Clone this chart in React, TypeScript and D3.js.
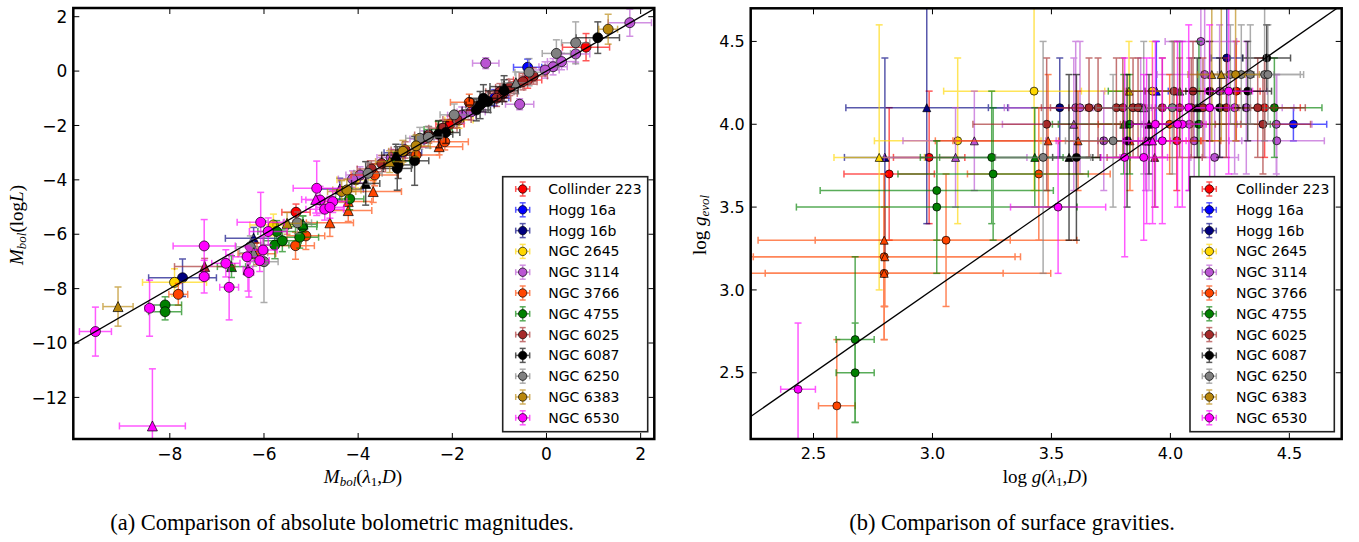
import React, { useEffect, useRef } from 'react';
import * as d3 from 'd3';

type Row = [string, number, number, number, number, string];

const clusters = [
  'Collinder 223', 'Hogg 16a', 'Hogg 16b', 'NGC 2645', 'NGC 3114', 'NGC 3766',
  'NGC 4755', 'NGC 6025', 'NGC 6087', 'NGC 6250', 'NGC 6383', 'NGC 6530'
];
const clusterColors = [
  '#ff0000', '#0000ff', '#000080', '#ffd700', '#ba55d3', '#ff4500',
  '#008000', '#a52a2a', '#000000', '#808080', '#b8860b', '#ff00ff'
];

// left panel: Mbol(lambda1, D) vs Mbol(log L) -> [cluster, x, y, xerr, yerr, marker]
const magnitudeRows: Row[] = [
  ['Collinder 223', 0.84, 0.88, 0.5, 0.5, 'o'],
  ['Collinder 223', -5.32, -5.19, 0.3, 0.3, 'o'],
  ['Collinder 223', -0.4, -0.33, 0.3, 0.3, 'o'],
  ['Collinder 223', -2.05, -1.95, 0.3, 0.3, 'o'],
  ['Hogg 16a', -0.4, 0.14, 0.3, 0.3, 'o'],
  ['Hogg 16a', -1.1, -0.98, 0.3, 0.3, 'o'],
  ['Hogg 16b', -7.73, -7.6, 0.72, 0.69, 'o'],
  ['Hogg 16b', -6.22, -6.15, 0.6, 0.4, '^'],
  ['Hogg 16b', -4.39, -4.34, 0.5, 0.4, '^'],
  ['Hogg 16b', -3.05, -3.0, 0.4, 0.3, 'o'],
  ['NGC 2645', -7.9, -7.77, 0.68, 0.5, 'o'],
  ['NGC 2645', -5.8, -5.66, 0.5, 0.4, 'o'],
  ['NGC 2645', -1.86, -1.8, 0.3, 0.3, 'o'],
  ['NGC 2645', -4.05, -4.0, 0.4, 0.3, 'o'],
  ['NGC 3114', -1.29, 0.29, 0.28, 0.2, 'o'],
  ['NGC 3114', -0.57, -1.22, 0.3, 0.2, 'o'],
  ['NGC 3114', 1.77, 1.78, 0.46, 0.5, 'o'],
  ['NGC 3114', 0.62, 0.63, 0.3, 0.3, 'o'],
  ['NGC 3114', 0.32, 0.35, 0.3, 0.3, 'o'],
  ['NGC 3114', 0.14, 0.16, 0.3, 0.3, 'o'],
  ['NGC 3114', -0.03, 0.04, 0.3, 0.3, 'o'],
  ['NGC 3114', -3.96, -3.82, 0.3, 0.3, 'o'],
  ['NGC 3114', -4.12, -3.97, 0.3, 0.3, 'o'],
  ['NGC 3114', -1.8, -1.62, 0.3, 0.3, 'o'],
  ['NGC 3114', -1.6, -1.5, 0.3, 0.3, 'o'],
  ['NGC 3114', -3.3, -3.18, 0.3, 0.3, 'o'],
  ['NGC 3114', -2.6, -2.5, 0.3, 0.3, 'o'],
  ['NGC 3766', -7.82, -8.21, 0.2, 0.4, 'o'],
  ['NGC 3766', -5.33, -6.42, 0.4, 0.5, 'o'],
  ['NGC 3766', -5.11, -6.06, 0.4, 0.5, 'o'],
  ['NGC 3766', -6.15, -6.72, 0.4, 0.4, '^'],
  ['NGC 3766', -4.6, -5.58, 0.5, 0.5, '^'],
  ['NGC 3766', -4.21, -4.8, 0.5, 0.4, '^'],
  ['NGC 3766', -4.21, -5.13, 0.5, 0.4, '^'],
  ['NGC 3766', -3.68, -4.43, 0.6, 0.4, '^'],
  ['NGC 3766', -3.65, -3.82, 0.5, 0.4, 'o'],
  ['NGC 3766', -2.77, -3.09, 0.5, 0.3, 'o'],
  ['NGC 3766', -2.16, -2.6, 0.5, 0.3, 'o'],
  ['NGC 3766', -2.28, -2.78, 0.5, 0.3, '^'],
  ['NGC 3766', -1.64, -1.15, 0.4, 0.3, 'o'],
  ['NGC 4755', -8.1, -8.6, 0.35, 0.3, 'o'],
  ['NGC 4755', -8.1, -8.85, 0.35, 0.3, 'o'],
  ['NGC 4755', -6.69, -7.19, 0.3, 0.4, '^'],
  ['NGC 4755', -5.77, -6.4, 0.3, 0.5, 'o'],
  ['NGC 4755', -5.61, -6.24, 0.4, 0.4, 'o'],
  ['NGC 4755', -5.73, -5.9, 0.4, 0.4, 'o'],
  ['NGC 4755', -5.24, -6.11, 0.4, 0.4, 'o'],
  ['NGC 4755', -5.18, -5.72, 0.3, 0.4, 'o'],
  ['NGC 4755', -5.17, -5.63, 0.3, 0.3, '^'],
  ['NGC 4755', -4.18, -4.7, 0.3, 0.4, 'o'],
  ['NGC 4755', -3.2, -3.3, 0.3, 0.3, 'o'],
  ['NGC 4755', -2.3, -2.15, 0.3, 0.3, '^'],
  ['NGC 6025', -7.26, -7.19, 0.64, 0.3, '^'],
  ['NGC 6025', -0.28, -0.18, 0.3, 0.3, 'o'],
  ['NGC 6025', -0.5, -0.39, 0.3, 0.3, 'o'],
  ['NGC 6025', -0.78, -0.6, 0.3, 0.3, 'o'],
  ['NGC 6025', -0.99, -0.76, 0.3, 0.3, 'o'],
  ['NGC 6025', -0.92, -0.82, 0.3, 0.3, 'o'],
  ['NGC 6025', -1.06, -1.0, 0.3, 0.3, 'o'],
  ['NGC 6025', -2.2, -2.1, 0.3, 0.3, 'o'],
  ['NGC 6025', -2.5, -2.35, 0.3, 0.3, 'o'],
  ['NGC 6025', -3.0, -2.9, 0.3, 0.3, 'o'],
  ['NGC 6025', -3.5, -3.4, 0.3, 0.3, 'o'],
  ['NGC 6025', -3.72, -3.6, 0.3, 0.3, 'o'],
  ['NGC 6025', -1.9, -1.78, 0.3, 0.3, 'o'],
  ['NGC 6087', -3.84, -4.13, 0.3, 0.8, '^'],
  ['NGC 6087', -3.2, -3.09, 0.3, 0.4, '^'],
  ['NGC 6087', -3.15, -3.45, 0.3, 0.5, 'o'],
  ['NGC 6087', -3.17, -3.58, 0.3, 0.8, 'o'],
  ['NGC 6087', -2.8, -3.3, 0.3, 0.9, 'o'],
  ['NGC 6087', -2.29, -2.32, 0.3, 0.5, 'o'],
  ['NGC 6087', -2.14, -2.26, 0.3, 0.4, 'o'],
  ['NGC 6087', -1.34, -1.0, 0.3, 0.5, 'o'],
  ['NGC 6087', -1.24, -1.12, 0.3, 0.4, 'o'],
  ['NGC 6087', -1.41, -1.25, 0.3, 0.5, 'o'],
  ['NGC 6087', -1.49, -1.43, 0.3, 0.4, 'o'],
  ['NGC 6087', -0.9, -0.57, 0.3, 0.4, '^'],
  ['NGC 6087', -0.9, -0.72, 0.3, 0.4, 'o'],
  ['NGC 6087', 1.09, 1.23, 0.46, 0.58, 'o'],
  ['NGC 6250', -6.29, -6.46, 0.3, 0.4, 'o'],
  ['NGC 6250', -6.22, -6.68, 0.3, 0.5, '^'],
  ['NGC 6250', -6.0, -7.01, 0.3, 1.5, 'o'],
  ['NGC 6250', -5.29, -5.58, 0.3, 0.4, 'o'],
  ['NGC 6250', -3.79, -3.76, 0.3, 0.4, 'o'],
  ['NGC 6250', -2.69, -2.47, 0.3, 0.4, 'o'],
  ['NGC 6250', -2.51, -2.43, 0.3, 0.4, 'o'],
  ['NGC 6250', -1.96, -1.61, 0.3, 0.4, 'o'],
  ['NGC 6250', -0.65, -0.43, 0.3, 0.4, '^'],
  ['NGC 6250', -0.37, -0.04, 0.3, 0.5, 'o'],
  ['NGC 6250', 0.62, 1.04, 0.3, 0.77, 'o'],
  ['NGC 6250', 0.21, 0.65, 0.3, 0.5, 'o'],
  ['NGC 6383', -9.1, -8.66, 0.32, 0.72, '^'],
  ['NGC 6383', -5.51, -5.6, 0.3, 0.4, '^'],
  ['NGC 6383', -4.35, -4.43, 0.3, 0.4, 'o'],
  ['NGC 6383', -4.24, -4.37, 0.3, 0.4, 'o'],
  ['NGC 6383', -2.77, -2.75, 0.3, 0.4, 'o'],
  ['NGC 6383', -3.33, -3.33, 0.3, 0.4, '^'],
  ['NGC 6383', -3.05, -2.95, 0.3, 0.4, 'o'],
  ['NGC 6383', 1.31, 1.54, 0.2, 0.55, 'o'],
  ['NGC 6530', -9.58, -9.58, 0.34, 0.9, 'o'],
  ['NGC 6530', -8.43, -8.72, 0.1, 1.03, 'o'],
  ['NGC 6530', -8.37, -13.05, 0.7, 2.1, '^'],
  ['NGC 6530', -7.27, -7.56, 0.1, 0.6, 'o'],
  ['NGC 6530', -7.27, -6.43, 0.66, 0.97, 'o'],
  ['NGC 6530', -6.81, -7.07, 0.3, 0.5, 'o'],
  ['NGC 6530', -6.74, -7.95, 0.2, 1.2, 'o'],
  ['NGC 6530', -6.34, -7.29, 0.1, 0.8, '^'],
  ['NGC 6530', -6.32, -7.41, 0.1, 0.9, 'o'],
  ['NGC 6530', -6.36, -6.83, 0.3, 0.4, 'o'],
  ['NGC 6530', -6.02, -6.58, 0.3, 0.5, 'o'],
  ['NGC 6530', -6.09, -6.97, 0.2, 0.4, 'o'],
  ['NGC 6530', -5.91, -5.9, 0.4, 0.5, 'o'],
  ['NGC 6530', -6.07, -5.56, 0.5, 1.1, 'o'],
  ['NGC 6530', -4.88, -4.31, 0.5, 1.0, 'o'],
  ['NGC 6530', -4.81, -4.74, 0.3, 0.5, 'o'],
  ['NGC 6530', -4.71, -5.08, 0.4, 0.4, 'o'],
  ['NGC 6530', -4.54, -4.8, 0.3, 0.4, 'o'],
  ['NGC 6530', -4.6, -5.01, 0.3, 0.4, 'o'],
  ['NGC 6530', -4.9, -4.72, 0.3, 0.5, '^']
];

// right panel: log g(lambda1, D) vs log g_evol
const gravityRows: Row[] = [
  ['Collinder 223', 2.986, 3.8, 0.15, 0.4, 'o'],
  ['Collinder 223', 2.818, 3.7, 0.19, 0.4, 'o'],
  ['Collinder 223', 4.277, 4.2, 0.1, 0.3, 'o'],
  ['Collinder 223', 4.396, 4.1, 0.15, 0.3, 'o'],
  ['Collinder 223', 4.027, 3.9, 0.1, 0.3, 'o'],
  ['Hogg 16a', 4.517, 4.0, 0.14, 0.1, 'o'],
  ['Hogg 16a', 3.941, 4.2, 0.05, 0.3, '^'],
  ['Hogg 16b', 2.976, 4.1, 0.34, 0.7, '^'],
  ['Hogg 16b', 2.8, 3.8, 0.17, 0.6, '^'],
  ['Hogg 16b', 3.535, 4.1, 0.3, 0.3, 'o'],
  ['Hogg 16b', 4.237, 4.4, 0.065, 0.3, 'o'],
  ['NGC 2645', 2.776, 3.8, 0.19, 0.8, '^'],
  ['NGC 2645', 3.106, 3.9, 0.35, 0.5, 'o'],
  ['NGC 2645', 3.427, 4.2, 0.38, 0.6, 'o'],
  ['NGC 2645', 3.826, 4.2, 0.2, 0.3, '^'],
  ['NGC 2645', 3.924, 4.2, 0.2, 0.3, 'o'],
  ['NGC 3114', 3.097, 3.8, 0.3, 0.3, '^'],
  ['NGC 3114', 3.176, 3.9, 0.3, 0.3, '^'],
  ['NGC 3114', 4.128, 4.5, 0.15, 0.4, 'o'],
  ['NGC 3114', 3.594, 4.0, 0.3, 0.4, '^'],
  ['NGC 3114', 3.602, 4.1, 0.3, 0.4, 'o'],
  ['NGC 3114', 3.62, 4.1, 0.3, 0.4, 'o'],
  ['NGC 3114', 4.144, 4.3, 0.2, 0.5, 'o'],
  ['NGC 3114', 4.207, 4.2, 0.2, 0.4, 'o'],
  ['NGC 3114', 4.27, 4.1, 0.2, 0.4, 'o'],
  ['NGC 3114', 4.319, 4.1, 0.2, 0.4, 'o'],
  ['NGC 3114', 4.445, 4.0, 0.15, 0.3, 'o'],
  ['NGC 3114', 4.447, 3.9, 0.2, 0.4, 'o'],
  ['NGC 3114', 4.186, 3.8, 0.1, 0.3, 'o'],
  ['NGC 3114', 3.895, 3.9, 0.2, 0.3, '^'],
  ['NGC 3114', 3.91, 3.9, 0.2, 0.3, '^'],
  ['NGC 3114', 3.875, 4.1, 0.2, 0.3, 'o'],
  ['NGC 3114', 3.72, 3.9, 0.2, 0.3, 'o'],
  ['NGC 3114', 4.08, 4.0, 0.2, 0.4, 'o'],
  ['NGC 3114', 4.1, 3.9, 0.2, 0.3, 'o'],
  ['NGC 3766', 3.057, 3.3, 0.55, 0.4, 'o'],
  ['NGC 3766', 2.797, 3.3, 0.53, 0.4, '^'],
  ['NGC 3766', 2.797, 3.2, 0.55, 0.5, 'o'],
  ['NGC 3766', 2.8, 3.2, 0.57, 0.3, '^'],
  ['NGC 3766', 2.797, 3.1, 0.5, 0.2, 'o'],
  ['NGC 3766', 2.797, 3.1, 0.7, 0.4, '^'],
  ['NGC 3766', 2.598, 2.3, 0.077, 0.4, 'o'],
  ['NGC 3766', 3.447, 3.7, 0.3, 0.4, 'o'],
  ['NGC 3766', 3.486, 3.9, 0.4, 0.4, '^'],
  ['NGC 3766', 3.612, 3.9, 0.6, 0.3, '^'],
  ['NGC 3766', 3.83, 3.9, 0.3, 0.3, '^'],
  ['NGC 3766', 3.997, 4.0, 0.3, 0.3, 'o'],
  ['NGC 4755', 3.018, 3.6, 0.49, 0.3, 'o'],
  ['NGC 4755', 3.018, 3.5, 0.59, 0.4, 'o'],
  ['NGC 4755', 3.249, 3.8, 0.3, 0.4, 'o'],
  ['NGC 4755', 3.255, 3.7, 0.4, 0.4, 'o'],
  ['NGC 4755', 2.675, 2.7, 0.08, 0.5, 'o'],
  ['NGC 4755', 2.675, 2.5, 0.08, 0.3, 'o'],
  ['NGC 4755', 3.43, 3.8, 0.4, 0.3, '^'],
  ['NGC 4755', 3.804, 4.0, 0.3, 0.3, '^'],
  ['NGC 4755', 3.829, 4.0, 0.3, 0.3, 'o'],
  ['NGC 4755', 4.039, 4.2, 0.3, 0.3, '^'],
  ['NGC 4755', 4.12, 4.0, 0.3, 0.5, 'o'],
  ['NGC 4755', 4.437, 4.1, 0.2, 0.3, 'o'],
  ['NGC 6025', 3.48, 4.0, 0.31, 0.4, 'o'],
  ['NGC 6025', 3.658, 4.1, 0.2, 0.3, 'o'],
  ['NGC 6025', 3.696, 4.1, 0.2, 0.3, 'o'],
  ['NGC 6025', 3.773, 4.1, 0.2, 0.3, 'o'],
  ['NGC 6025', 3.8, 4.1, 0.2, 0.3, 'o'],
  ['NGC 6025', 3.843, 4.1, 0.2, 0.3, 'o'],
  ['NGC 6025', 3.864, 4.1, 0.2, 0.3, 'o'],
  ['NGC 6025', 3.966, 4.1, 0.2, 0.3, 'o'],
  ['NGC 6025', 4.039, 4.1, 0.2, 0.3, 'o'],
  ['NGC 6025', 4.088, 4.1, 0.2, 0.3, 'o'],
  ['NGC 6025', 4.137, 4.1, 0.2, 0.3, 'o'],
  ['NGC 6025', 4.235, 4.1, 0.2, 0.3, 'o'],
  ['NGC 6025', 4.367, 4.1, 0.2, 0.3, 'o'],
  ['NGC 6025', 4.015, 4.2, 0.2, 0.3, 'o'],
  ['NGC 6025', 4.095, 4.2, 0.2, 0.3, 'o'],
  ['NGC 6025', 4.389, 4.0, 0.2, 0.3, 'o'],
  ['NGC 6025', 3.934, 3.8, 0.2, 0.3, '^'],
  ['NGC 6087', 4.405, 4.4, 0.1, 0.2, 'o'],
  ['NGC 6087', 4.165, 4.2, 0.1, 0.3, 'o'],
  ['NGC 6087', 4.325, 4.2, 0.1, 0.3, 'o'],
  ['NGC 6087', 4.113, 4.1, 0.1, 0.3, '^'],
  ['NGC 6087', 4.207, 4.1, 0.1, 0.3, 'o'],
  ['NGC 6087', 3.91, 4.0, 0.1, 0.3, '^'],
  ['NGC 6087', 3.818, 3.9, 0.1, 0.4, 'o'],
  ['NGC 6087', 3.574, 3.8, 0.1, 0.5, '^'],
  ['NGC 6087', 3.605, 3.8, 0.1, 0.5, 'o'],
  ['NGC 6250', 3.465, 3.8, 0.2, 0.7, 'o'],
  ['NGC 6250', 3.888, 4.1, 0.2, 0.4, '^'],
  ['NGC 6250', 4.008, 4.1, 0.2, 0.4, 'o'],
  ['NGC 6250', 3.759, 3.9, 0.2, 0.4, 'o'],
  ['NGC 6250', 4.252, 4.3, 0.1, 0.3, 'o'],
  ['NGC 6250', 4.298, 4.3, 0.1, 0.3, 'o'],
  ['NGC 6250', 4.336, 4.3, 0.1, 0.3, 'o'],
  ['NGC 6250', 4.396, 4.3, 0.15, 0.4, 'o'],
  ['NGC 6250', 4.41, 4.3, 0.15, 0.3, 'o'],
  ['NGC 6383', 4.174, 4.3, 0.1, 0.4, '^'],
  ['NGC 6383', 4.214, 4.3, 0.1, 0.4, '^'],
  ['NGC 6383', 4.274, 4.3, 0.1, 0.4, 'o'],
  ['NGC 6530', 2.435, 2.4, 0.073, 0.4, 'o'],
  ['NGC 6530', 3.528, 3.5, 0.2, 0.4, 'o'],
  ['NGC 6530', 3.808, 3.8, 0.1, 0.6, 'o'],
  ['NGC 6530', 3.888, 3.8, 0.1, 0.5, 'o'],
  ['NGC 6530', 3.937, 4.0, 0.1, 0.5, 'o'],
  ['NGC 6530', 3.966, 3.9, 0.1, 0.5, 'o'],
  ['NGC 6530', 4.05, 4.0, 0.1, 0.5, 'o'],
  ['NGC 6530', 4.03, 4.0, 0.1, 0.5, 'o'],
  ['NGC 6530', 4.077, 4.1, 0.1, 0.5, 'o'],
  ['NGC 6530', 4.165, 4.1, 0.1, 0.5, 'o'],
  ['NGC 6530', 4.245, 4.2, 0.1, 0.5, 'o'],
  ['NGC 6530', 3.9, 3.9, 0.1, 0.5, '^'],
  ['NGC 6530', 3.925, 3.9, 0.1, 0.5, '^']
];

const magXTicks = [-8, -6, -4, -2, 0, 2];
const magYTicks = [2, 0, -2, -4, -6, -8, -10, -12];
const gravXTicks = [2.5, 3.0, 3.5, 4.0, 4.5];
const gravYTicks = [2.5, 3.0, 3.5, 4.0, 4.5];

const colorOf = (name: string) => clusterColors[clusters.indexOf(name)];

interface PanelSpec {
  id: string;
  box: { left: number; right: number; top: number; bottom: number };
  xDomain: [number, number];
  yDomain: [number, number];
  rows: Row[];
  xTicks: number[];
  yTicks: number[];
  fmt: (v: number) => string;
  tickSize: number;
  markerR: number;
  legend: { left: number; right: number; top: number; bottom: number; mark: number; text: number; first: number; step: number };
}

const drawPanel = (root: d3.Selection<SVGSVGElement, unknown, null, undefined>, p: PanelSpec) => {
  const x = d3.scaleLinear().domain(p.xDomain).range([p.box.left, p.box.right]);
  const y = d3.scaleLinear().domain(p.yDomain).range([p.box.bottom, p.box.top]);
  const g = root.append('g');

  g.append('clipPath').attr('id', `clip-${p.id}`)
    .append('rect')
    .attr('x', p.box.left).attr('y', p.box.top)
    .attr('width', p.box.right - p.box.left).attr('height', p.box.bottom - p.box.top);

  const plot = g.append('g').attr('clip-path', `url(#clip-${p.id})`);

  // 1:1 line
  const lo = Math.min(p.xDomain[0], p.yDomain[0]);
  const hi = Math.max(p.xDomain[1], p.yDomain[1]);
  const cap = 3.5;

  clusters.forEach(name => {
    const color = colorOf(name);
    const rows = p.rows.filter(r => r[0] === name);
    const bars = plot.append('g').attr('stroke', color).attr('stroke-width', 1.5).attr('opacity', 0.65);
    rows.forEach(r => {
      const [, vx, vy, ex, ey] = r;
      const cx = x(vx), cy = y(vy);
      const xa = x(vx - ex), xb = x(vx + ex), ya = y(vy - ey), yb = y(vy + ey);
      bars.append('line').attr('x1', xa).attr('x2', xb).attr('y1', cy).attr('y2', cy);
      bars.append('line').attr('x1', xa).attr('x2', xa).attr('y1', cy - cap).attr('y2', cy + cap);
      bars.append('line').attr('x1', xb).attr('x2', xb).attr('y1', cy - cap).attr('y2', cy + cap);
      bars.append('line').attr('x1', cx).attr('x2', cx).attr('y1', ya).attr('y2', yb);
      bars.append('line').attr('x1', cx - cap).attr('x2', cx + cap).attr('y1', ya).attr('y2', ya);
      bars.append('line').attr('x1', cx - cap).attr('x2', cx + cap).attr('y1', yb).attr('y2', yb);
    });
    const rr = p.markerR;
    rows.forEach(r => {
      const cx = x(r[1]), cy = y(r[2]);
      if (r[5] === '^') {
        plot.append('path')
          .attr('d', `M${cx},${cy - rr}L${cx - rr},${cy + rr}L${cx + rr},${cy + rr}Z`)
          .attr('fill', color).attr('stroke', '#000').attr('stroke-width', 0.7);
      } else {
        plot.append('circle').attr('cx', cx).attr('cy', cy).attr('r', rr)
          .attr('fill', color).attr('stroke', '#000').attr('stroke-width', 0.7);
      }
    });
  });

  plot.append('line')
    .attr('x1', x(lo)).attr('y1', y(lo)).attr('x2', x(hi)).attr('y2', y(hi))
    .attr('stroke', '#000').attr('stroke-width', 1.3);

  // ticks on all sides, pointing in
  const tl = 6;
  const ticks = g.append('g').attr('stroke', '#000').attr('stroke-width', 1);
  p.xTicks.forEach(t => {
    ticks.append('line').attr('x1', x(t)).attr('x2', x(t)).attr('y1', p.box.bottom).attr('y2', p.box.bottom - tl);
    ticks.append('line').attr('x1', x(t)).attr('x2', x(t)).attr('y1', p.box.top).attr('y2', p.box.top + tl);
  });
  p.yTicks.forEach(t => {
    ticks.append('line').attr('y1', y(t)).attr('y2', y(t)).attr('x1', p.box.left).attr('x2', p.box.left + tl);
    ticks.append('line').attr('y1', y(t)).attr('y2', y(t)).attr('x1', p.box.right).attr('x2', p.box.right - tl);
  });

  const labels = g.append('g').attr('font-family', 'DejaVu Sans, sans-serif').attr('font-size', p.tickSize).attr('fill', '#000');
  p.xTicks.forEach(t => {
    labels.append('text').attr('x', x(t)).attr('y', p.box.bottom + 7).attr('dy', '0.8em')
      .attr('text-anchor', 'middle').text(p.fmt(t));
  });
  p.yTicks.forEach(t => {
    labels.append('text').attr('x', p.box.left - 6).attr('y', y(t)).attr('dy', '0.36em')
      .attr('text-anchor', 'end').text(p.fmt(t));
  });

  g.append('rect')
    .attr('x', p.box.left).attr('y', p.box.top)
    .attr('width', p.box.right - p.box.left).attr('height', p.box.bottom - p.box.top)
    .attr('fill', 'none').attr('stroke', '#000').attr('stroke-width', 2.5);

  // legend
  const L = p.legend;
  const leg = g.append('g');
  leg.append('rect').attr('x', L.left).attr('y', L.top)
    .attr('width', L.right - L.left).attr('height', L.bottom - L.top)
    .attr('fill', '#fff').attr('stroke', '#222').attr('stroke-width', 1.6);
  clusters.forEach((name, i) => {
    const cy = L.first + i * L.step;
    const color = clusterColors[i];
    const eb = leg.append('g').attr('stroke', color).attr('stroke-width', 1.5).attr('opacity', 0.65);
    eb.append('line').attr('x1', L.mark - 7).attr('x2', L.mark + 7).attr('y1', cy).attr('y2', cy);
    eb.append('line').attr('x1', L.mark - 7).attr('x2', L.mark - 7).attr('y1', cy - 3).attr('y2', cy + 3);
    eb.append('line').attr('x1', L.mark + 7).attr('x2', L.mark + 7).attr('y1', cy - 3).attr('y2', cy + 3);
    eb.append('line').attr('x1', L.mark).attr('x2', L.mark).attr('y1', cy - 7).attr('y2', cy + 7);
    eb.append('line').attr('x1', L.mark - 3).attr('x2', L.mark + 3).attr('y1', cy - 7).attr('y2', cy - 7);
    eb.append('line').attr('x1', L.mark - 3).attr('x2', L.mark + 3).attr('y1', cy + 7).attr('y2', cy + 7);
    leg.append('circle').attr('cx', L.mark).attr('cy', cy).attr('r', 4.2)
      .attr('fill', color).attr('stroke', '#000').attr('stroke-width', 0.7);
    leg.append('text').attr('x', L.text).attr('y', cy).attr('dy', '0.36em')
      .attr('font-family', 'DejaVu Sans, sans-serif').attr('font-size', 14).text(name);
  });
};

const App: React.FC = () => {
  const chartRef = useRef<SVGSVGElement>(null);

  useEffect(() => {
    if (!chartRef.current) return;
    const svg = d3.select(chartRef.current);
    svg.selectAll('*').remove();

    const minus = (v: number) => (v < 0 ? '\u2212' + Math.abs(v) : String(v));

    drawPanel(svg, {
      id: 'mag',
      box: { left: 73.3, right: 654.3, top: 8, bottom: 439 },
      xDomain: [-10.05, 2.29],
      yDomain: [-13.53, 2.32],
      rows: magnitudeRows,
      xTicks: magXTicks,
      yTicks: magYTicks,
      fmt: minus,
      tickSize: 17,
      markerR: 5,
      legend: { left: 502.7, right: 647.7, top: 176.7, bottom: 431.7, mark: 522.7, text: 548.3, first: 189, step: 20.8 }
    });

    drawPanel(svg, {
      id: 'grav',
      box: { left: 750.7, right: 1341.7, top: 8.3, bottom: 439 },
      xDomain: [2.236, 4.72],
      yDomain: [2.10, 4.70],
      rows: gravityRows,
      xTicks: gravXTicks,
      yTicks: gravYTicks,
      fmt: d3.format('.1f'),
      tickSize: 16,
      markerR: 4,
      legend: { left: 1190, right: 1334.3, top: 176.7, bottom: 431.7, mark: 1209.3, text: 1236, first: 189, step: 20.8 }
    });

    // axis titles
    const serif = 'Liberation Serif, DejaVu Serif, serif';
    const xl = svg.append('text').attr('x', 363).attr('y', 483).attr('text-anchor', 'middle')
      .attr('font-family', serif).attr('font-size', 19);
    xl.append('tspan').attr('font-style', 'italic').text('M');
    xl.append('tspan').attr('font-style', 'italic').attr('font-size', 13).attr('dy', 3).text('bol');
    xl.append('tspan').attr('dy', -3).text('(');
    xl.append('tspan').attr('font-style', 'italic').text('λ');
    xl.append('tspan').attr('font-size', 13).attr('dy', 3).text('1');
    xl.append('tspan').attr('dy', -3).text(',');
    xl.append('tspan').attr('font-style', 'italic').text('D');
    xl.append('tspan').text(')');

    const yl = svg.append('text').attr('transform', 'translate(23,225) rotate(-90)').attr('text-anchor', 'middle')
      .attr('font-family', serif).attr('font-size', 19);
    yl.append('tspan').attr('font-style', 'italic').text('M');
    yl.append('tspan').attr('font-style', 'italic').attr('font-size', 13).attr('dy', 3).text('bol');
    yl.append('tspan').attr('dy', -3).text('(log');
    yl.append('tspan').attr('font-style', 'italic').text('L');
    yl.append('tspan').text(')');

    const xr = svg.append('text').attr('x', 1045).attr('y', 483).attr('text-anchor', 'middle')
      .attr('font-family', serif).attr('font-size', 19);
    xr.append('tspan').text('log ');
    xr.append('tspan').attr('font-style', 'italic').text('g');
    xr.append('tspan').text('(');
    xr.append('tspan').attr('font-style', 'italic').text('λ');
    xr.append('tspan').attr('font-size', 13).attr('dy', 3).text('1');
    xr.append('tspan').attr('dy', -3).text(',');
    xr.append('tspan').attr('font-style', 'italic').text('D');
    xr.append('tspan').text(')');

    const yr = svg.append('text').attr('transform', 'translate(706,225) rotate(-90)').attr('text-anchor', 'middle')
      .attr('font-family', serif).attr('font-size', 19);
    yr.append('tspan').text('log ');
    yr.append('tspan').attr('font-style', 'italic').text('g');
    yr.append('tspan').attr('font-style', 'italic').attr('font-size', 13).attr('dy', 3).text('evol');

    // captions
    svg.append('text').attr('x', 342).attr('y', 530).attr('text-anchor', 'middle')
      .attr('font-family', serif).attr('font-size', 22.5)
      .text('(a) Comparison of absolute bolometric magnitudes.');
    svg.append('text').attr('x', 1012).attr('y', 530).attr('text-anchor', 'middle')
      .attr('font-family', serif).attr('font-size', 22.5)
      .text('(b) Comparison of surface gravities.');
  }, []);

  return (
    <svg ref={chartRef} width={1359} height={542}
      style={{ position: 'absolute', left: 0, top: 0, background: '#fff' }} />
  );
};

export default App;
